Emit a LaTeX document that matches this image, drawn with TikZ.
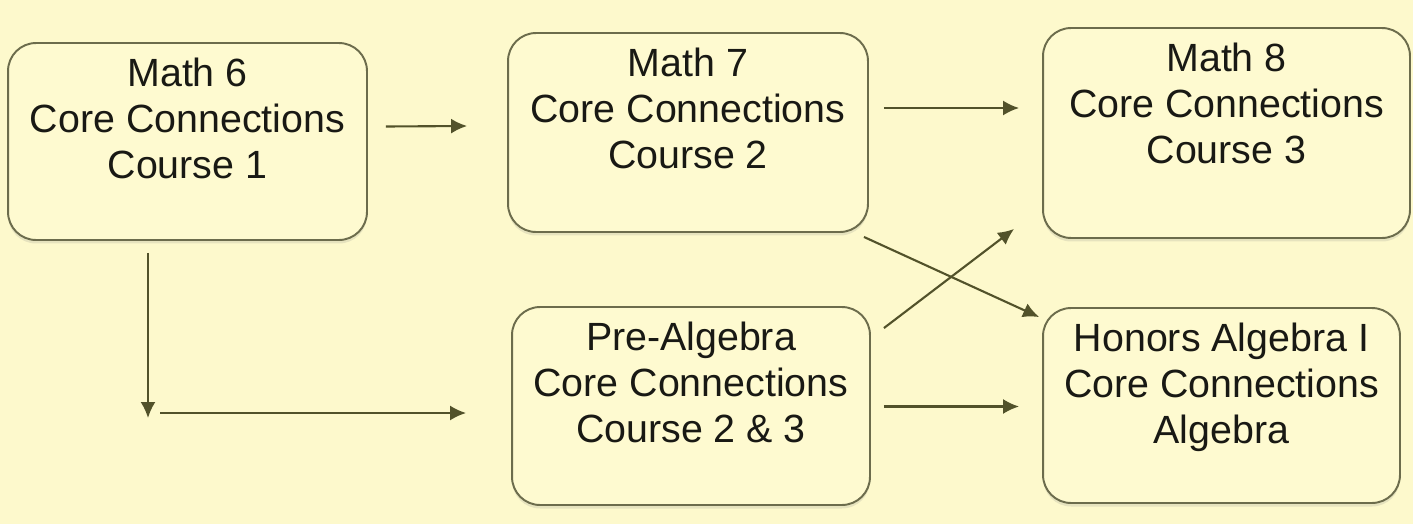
\documentclass[tikz,border=0pt]{standalone}
\usepackage{fontspec}
\setmainfont{Liberation Sans}
\usepackage{tikz}
\usetikzlibrary{arrows.meta,calc,shadows}
\definecolor{pgbg}{RGB}{253,249,204}
\definecolor{pgbox}{RGB}{254,250,208}
\definecolor{pgedge}{RGB}{108,108,76}
\definecolor{pgarrow}{RGB}{82,82,42}
\definecolor{pgink}{RGB}{25,25,20}
\tikzset{
  course/.style={draw=pgedge,line width=1.1pt,fill=pgbox,rounded corners=0.56cm,
                 inner sep=0pt,text=pgink,
                 drop shadow={shadow xshift=0pt,shadow yshift=-2pt,opacity=0.18}},
  flow/.style={-{Latex[length=0.32cm,width=0.3cm]},line width=1.2pt,draw=pgarrow},
}
% box text: width, height, lines
\newcommand{\crs}[3]{\parbox[c][#2][t]{#1}{\centering
  \fontsize{22.4pt}{26.2pt}\selectfont\vspace*{0.3cm}#3}}

\begin{document}
\begin{tikzpicture}[x=0.02cm,y=-0.02cm]
  \fill[pgbg] (0,0) rectangle (1413,524);

  % ---- grade 6 ----
  \node[course] (m6) at (187.5,141.5) {\crs{7.18cm}{3.94cm}{Math 6\\Core Connections\\Course 1}};

  % ---- grade 7 ----
  \node[course] (m7) at (688,132.5) {\crs{7.2cm}{3.98cm}{Math 7\\Core Connections\\Course 2}};
  \node[course] (pa) at (691,406) {\crs{7.16cm}{3.96cm}{Pre-Algebra\\Core Connections\\Course 2 \& 3}};

  % ---- grade 8 ----
  \node[course] (m8) at (1226.5,133) {\crs{7.34cm}{4.2cm}{Math 8\\Core Connections\\Course 3}};
  \node[course] (ha) at (1221.5,405.5) {\crs{7.14cm}{3.9cm}{Honors Algebra I\\Core Connections\\Algebra}};

  % ---- flows ----
  \coordinate (elbow) at (148,413);
  \draw[flow] ($(m6.east)+(18,-15)$) -- ($(m7.west)+(-40,-6.5)$);
  \draw[flow] ($(m7.east)+(15,-24.5)$) -- ($(m8.west)+(-23,-25)$);
  \draw[flow] ($(m6.south)+(-39.5,12)$) -- ($(elbow)+(0,5)$);
  \draw[flow] ($(elbow)+(12,0)$) -- ($(pa.west)+(-45,7)$);
  \draw[flow] ($(m7.south east)+(-5,4)$) -- ($(ha.north west)+(-3,10)$);
  \draw[flow] ($(pa.north east)+(13,22)$) -- ($(m8.south west)+(-28,-10)$);
  \draw[flow] ($(pa.east)+(13,0.5)$) -- ($(ha.west)+(-23,1)$);
\end{tikzpicture}
\end{document}
